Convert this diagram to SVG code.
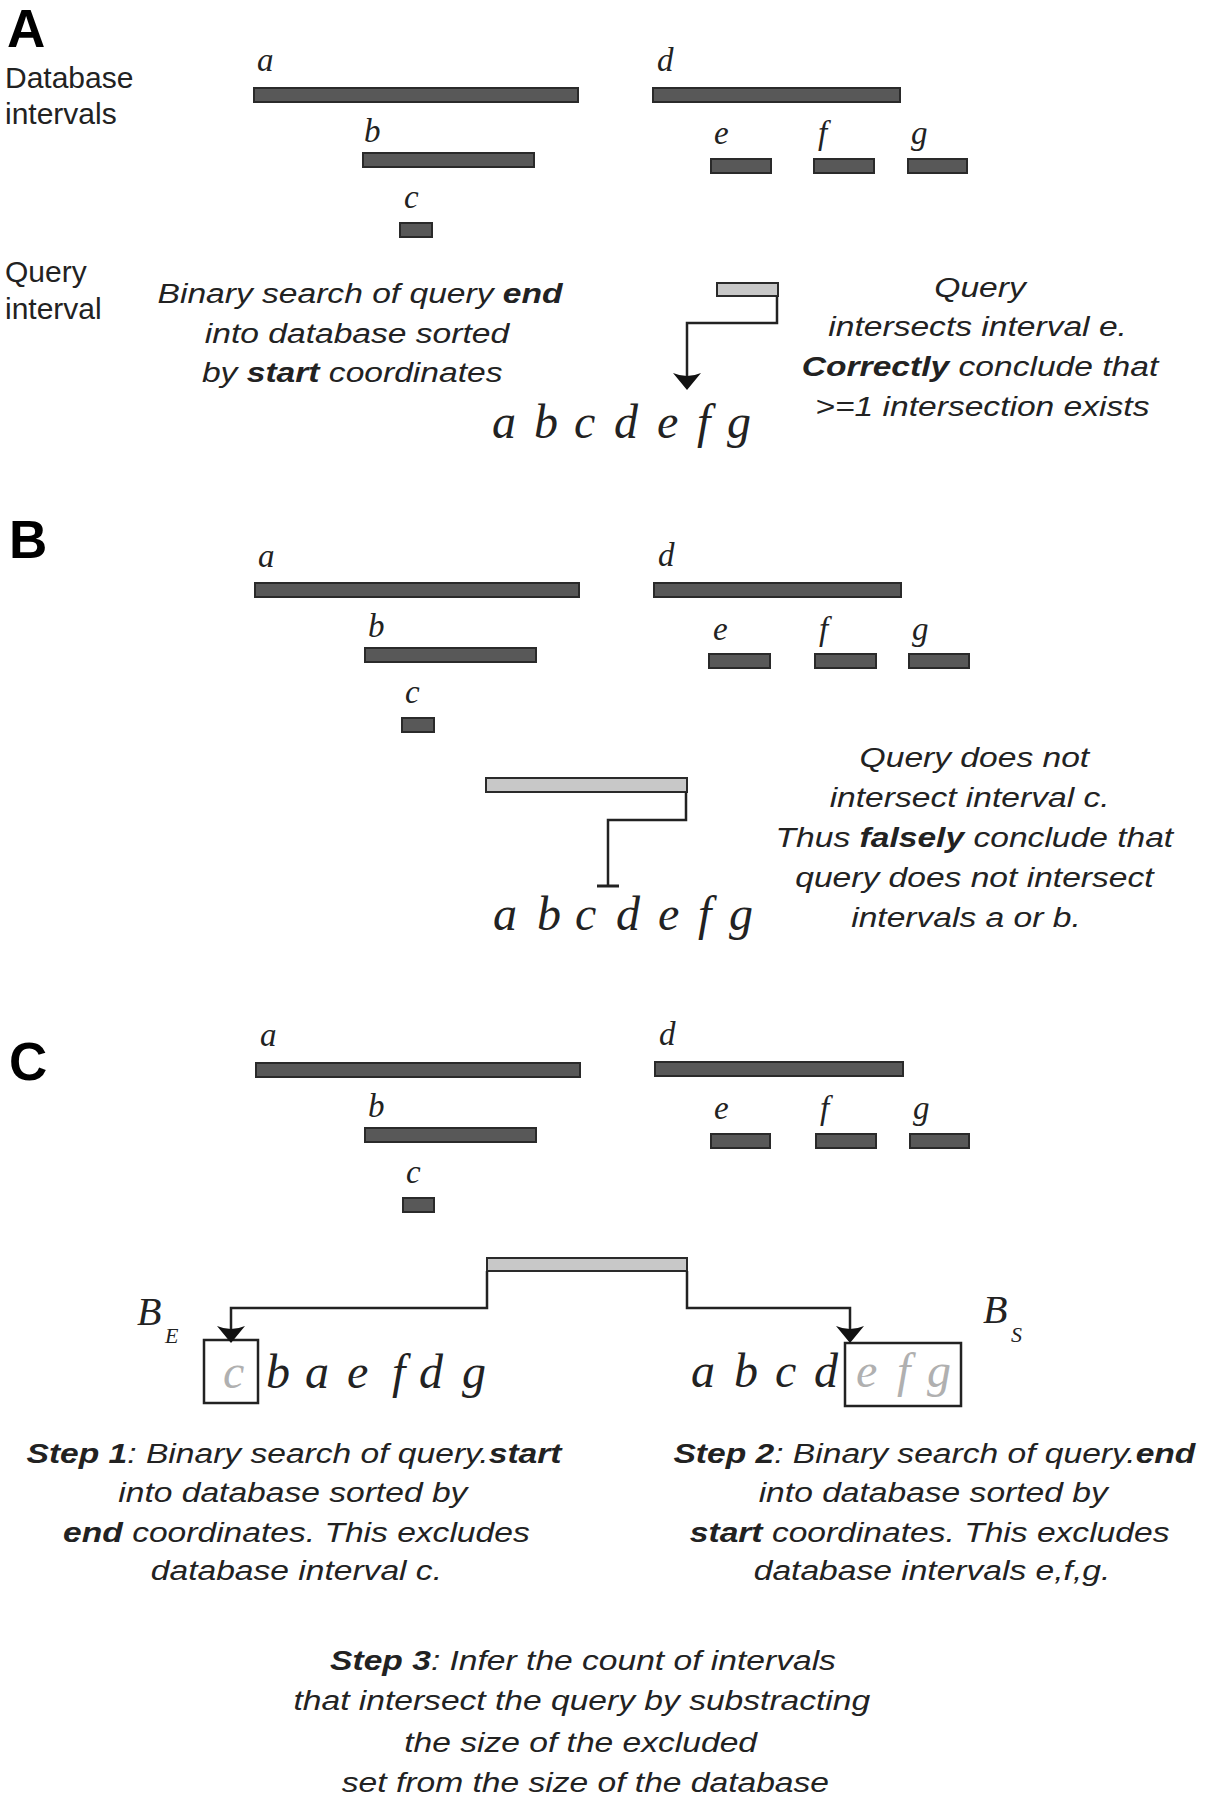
<svg xmlns="http://www.w3.org/2000/svg" width="1206" height="1800" viewBox="0 0 1206 1800">
<defs>
<style>
.bar{fill:#585858;stroke:#2a2a2a;stroke-width:2}
.qbar{fill:#c8c8c8;stroke:#2a2a2a;stroke-width:2}
.conn{fill:none;stroke:#222;stroke-width:2.5}
.box{fill:none;stroke:#222;stroke-width:2.5}
.panel{font-family:"Liberation Sans",Arial,sans-serif;font-weight:bold;font-size:53px;fill:#000}
.side{font-family:"Liberation Sans",Arial,sans-serif;font-size:30px;fill:#222}
.note{font-family:"Liberation Sans",Arial,sans-serif;font-style:italic;font-size:28px;fill:#222;text-anchor:middle}
.note .b{font-weight:bold}
.lbl{font-family:"Liberation Serif","Times New Roman",serif;font-style:italic;font-size:33px;fill:#222}
.lst{font-family:"Liberation Serif","Times New Roman",serif;font-style:italic;font-size:48px;fill:#222}
.grey{fill:#b0b0b0}
.bl{font-family:"Liberation Serif","Times New Roman",serif;font-style:italic;font-size:40px;fill:#222}
.sub{font-family:"Liberation Serif","Times New Roman",serif;font-style:italic;font-size:22px;fill:#222}
</style>
<marker id="arr" markerUnits="userSpaceOnUse" viewBox="-12 -15 19 30" markerWidth="19" markerHeight="30" refX="0" refY="0" orient="auto">
<path d="M6,0 L-11,-14 Q-5,0 -11,14 Z" fill="#111"/>
</marker>
</defs>
<rect width="1206" height="1800" fill="#fff"/>

<!-- Panel A -->
<g id="panelA">
<text class="panel" x="7" y="47">A</text>
<text class="side" x="5" y="88">Database</text>
<text class="side" x="5" y="124">intervals</text>
<text class="side" x="5" y="282">Query</text>
<text class="side" x="5" y="319">interval</text>
<g id="A-a"><rect class="bar" x="254" y="88" width="324" height="14"/><text class="lbl" x="257" y="71">a</text></g>
<g id="A-b"><rect class="bar" x="363" y="153" width="171" height="14"/><text class="lbl" x="364" y="142">b</text></g>
<g id="A-c"><rect class="bar" x="400" y="223" width="32" height="14"/><text class="lbl" x="404" y="208">c</text></g>
<g id="A-d"><rect class="bar" x="653" y="88" width="247" height="14"/><text class="lbl" x="657" y="71">d</text></g>
<g id="A-e"><rect class="bar" x="711" y="159" width="60" height="14"/><text class="lbl" x="714" y="144">e</text></g>
<g id="A-f"><rect class="bar" x="814" y="159" width="60" height="14"/><text class="lbl" x="818" y="144">f</text></g>
<g id="A-g"><rect class="bar" x="908" y="159" width="59" height="14"/><text class="lbl" x="911" y="144">g</text></g>
<g id="A-query"><rect class="qbar" x="717" y="283" width="61" height="13"/></g>
<g id="A-list"><text class="lst" y="438"><tspan x="492">a</tspan> <tspan x="534">b</tspan> <tspan x="574">c</tspan> <tspan x="614">d</tspan> <tspan x="657">e</tspan> <tspan x="697">f</tspan> <tspan x="727">g</tspan></text></g>
<g id="A-note1" transform="translate(357,0) scale(1.2,1)">
<text class="note" x="2.5" y="303">Binary search of query <tspan class="b">end</tspan></text>
<text class="note" x="0" y="343">into database sorted</text>
<text class="note" x="-4" y="382">by <tspan class="b">start</tspan> coordinates</text>
</g>
<g id="A-note2" transform="translate(980,0) scale(1.2,1)">
<text class="note" x="0" y="297">Query</text>
<text class="note" x="-2" y="336">intersects interval e.</text>
<text class="note" x="0" y="376"><tspan class="b">Correctly</tspan> conclude that</text>
<text class="note" x="2" y="416">&gt;=1 intersection exists</text>
</g>
</g>

<!-- Panel B -->
<g id="panelB">
<text class="panel" x="9" y="558">B</text>
<g id="B-a"><rect class="bar" x="255" y="583" width="324" height="14"/><text class="lbl" x="258" y="567">a</text></g>
<g id="B-b"><rect class="bar" x="365" y="648" width="171" height="14"/><text class="lbl" x="368" y="637">b</text></g>
<g id="B-c"><rect class="bar" x="402" y="718" width="32" height="14"/><text class="lbl" x="405" y="703">c</text></g>
<g id="B-d"><rect class="bar" x="654" y="583" width="247" height="14"/><text class="lbl" x="658" y="566">d</text></g>
<g id="B-e"><rect class="bar" x="709" y="654" width="61" height="14"/><text class="lbl" x="713" y="640">e</text></g>
<g id="B-f"><rect class="bar" x="815" y="654" width="61" height="14"/><text class="lbl" x="819" y="640">f</text></g>
<g id="B-g"><rect class="bar" x="909" y="654" width="60" height="14"/><text class="lbl" x="912" y="640">g</text></g>
<g id="B-query"><rect class="qbar" x="486" y="778" width="201" height="14"/></g>
<g id="B-list"><text class="lst" y="930"><tspan x="493">a</tspan> <tspan x="537">b</tspan> <tspan x="575">c</tspan> <tspan x="616">d</tspan> <tspan x="658">e</tspan> <tspan x="698">f</tspan> <tspan x="729">g</tspan></text></g>
<g id="B-note" transform="translate(972,0) scale(1.2,1)">
<text class="note" x="2" y="767">Query does not</text>
<text class="note" x="-2" y="807">intersect interval c.</text>
<text class="note" x="2" y="847">Thus <tspan class="b">falsely</tspan> conclude that</text>
<text class="note" x="2" y="887">query does not intersect</text>
<text class="note" x="-5" y="927">intervals a or b.</text>
</g>
</g>

<!-- Panel C -->
<g id="panelC">
<text class="panel" x="9" y="1080">C</text>
<g id="C-a"><rect class="bar" x="256" y="1063" width="324" height="14"/><text class="lbl" x="260" y="1046">a</text></g>
<g id="C-b"><rect class="bar" x="365" y="1128" width="171" height="14"/><text class="lbl" x="368" y="1117">b</text></g>
<g id="C-c"><rect class="bar" x="403" y="1198" width="31" height="14"/><text class="lbl" x="406" y="1183">c</text></g>
<g id="C-d"><rect class="bar" x="655" y="1062" width="248" height="14"/><text class="lbl" x="659" y="1045">d</text></g>
<g id="C-e"><rect class="bar" x="711" y="1134" width="59" height="14"/><text class="lbl" x="714" y="1119">e</text></g>
<g id="C-f"><rect class="bar" x="816" y="1134" width="60" height="14"/><text class="lbl" x="820" y="1119">f</text></g>
<g id="C-g"><rect class="bar" x="910" y="1134" width="59" height="14"/><text class="lbl" x="913" y="1119">g</text></g>
<g id="C-query"><rect class="qbar" x="487" y="1258" width="200" height="13"/></g>
<g id="C-BE">
<rect class="box" x="204" y="1340" width="54" height="63"/>
<text class="bl" x="137" y="1325">B</text><text class="sub" x="165" y="1343">E</text>
<text class="lst" y="1388"><tspan class="grey" x="223">c</tspan> <tspan x="266">b</tspan> <tspan x="305">a</tspan> <tspan x="347">e</tspan> <tspan x="392">f</tspan> <tspan x="419">d</tspan> <tspan x="462">g</tspan></text>
</g>
<g id="C-BS">
<rect class="box" x="845" y="1343" width="116" height="63"/>
<text class="bl" x="983" y="1323">B</text><text class="sub" x="1011" y="1342">S</text>
<text class="lst" y="1387"><tspan x="691">a</tspan> <tspan x="734">b</tspan> <tspan x="775">c</tspan> <tspan x="814">d</tspan> <tspan class="grey" x="856">e</tspan> <tspan class="grey" x="897">f</tspan> <tspan class="grey" x="927">g</tspan></text>
</g>
<g id="C-step1" transform="translate(294,0) scale(1.2,1)">
<text class="note" x="0" y="1463"><tspan class="b">Step 1</tspan>: Binary search of query.<tspan class="b">start</tspan></text>
<text class="note" x="-1" y="1502">into database sorted by</text>
<text class="note" x="2" y="1542"><tspan class="b">end</tspan> coordinates. This excludes</text>
<text class="note" x="2" y="1580">database interval c.</text>
</g>
<g id="C-step2" transform="translate(932,0) scale(1.2,1)">
<text class="note" x="2" y="1463"><tspan class="b">Step 2</tspan>: Binary search of query.<tspan class="b">end</tspan></text>
<text class="note" x="1" y="1502">into database sorted by</text>
<text class="note" x="-2" y="1542"><tspan class="b">start</tspan> coordinates. This excludes</text>
<text class="note" x="0" y="1580">database intervals e,f,g.</text>
</g>
<g id="C-step3" transform="translate(583,0) scale(1.2,1)">
<text class="note" x="0" y="1670"><tspan class="b">Step 3</tspan>: Infer the count of intervals</text>
<text class="note" x="-1" y="1710">that  intersect the query by substracting</text>
<text class="note" x="-2" y="1752">the size of the excluded</text>
<text class="note" x="2" y="1792">set from the size of the database</text>
</g>
</g>

<!-- Connectors -->
<g id="connectors">
<path class="conn" d="M777,296 V323 H687 V384" marker-end="url(#arr)"/>
<path class="conn" d="M686,792 V820 H608 V886"/>
<path class="conn" d="M597,886 H619" style="stroke-width:3"/>
<path class="conn" d="M487,1271 V1308 H231 V1337" marker-end="url(#arr)"/>
<path class="conn" d="M687,1271 V1308 H850 V1337" marker-end="url(#arr)"/>
</g>
</svg>
